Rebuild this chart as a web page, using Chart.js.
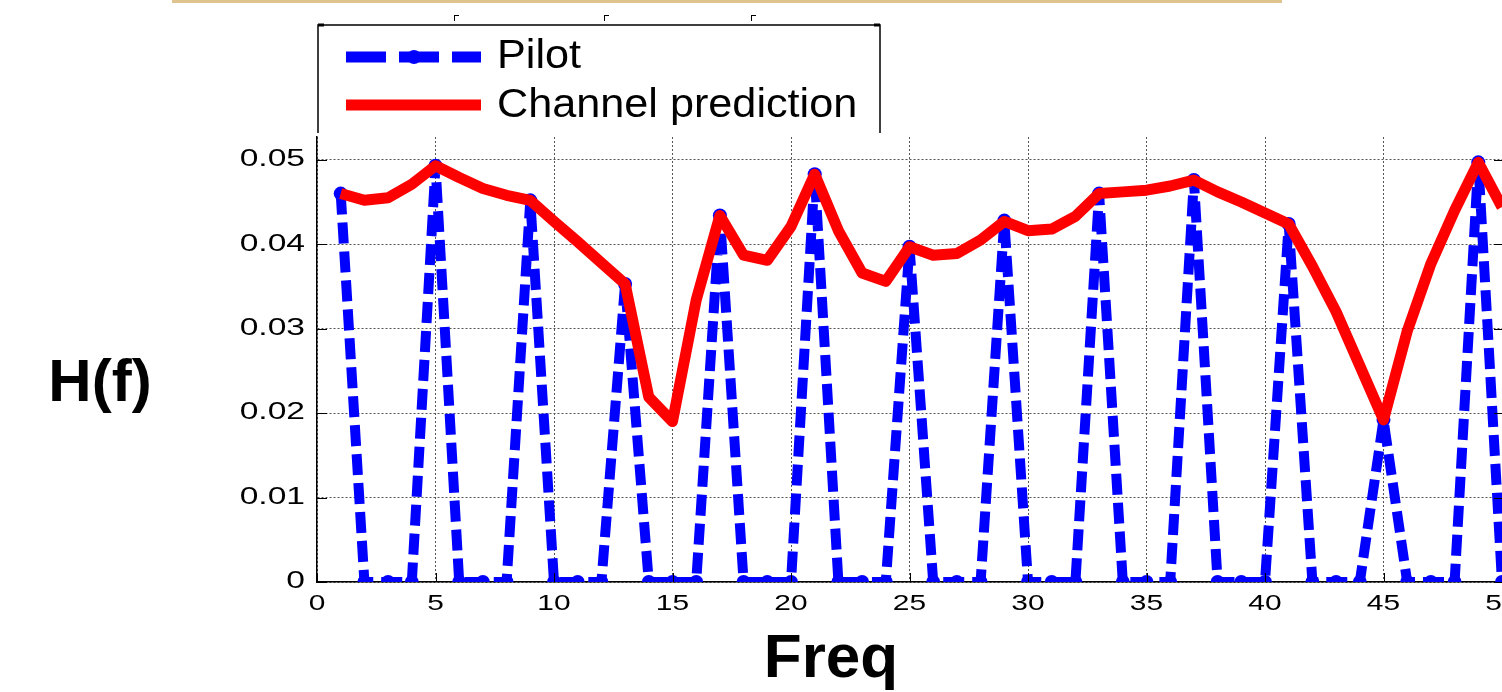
<!DOCTYPE html>
<html lang="en">
<head>
  <meta charset="UTF-8">
  <title>H(f) - Pilot vs Channel prediction</title>
  <script src="https://cdn.jsdelivr.net/npm/chart.js"></script>
  <style>
    html, body { margin: 0; padding: 0; background: #fff; overflow: hidden; }
    #wrap { width: 1530px; height: 692px; }
  </style>
</head>
<body>
  <div id="wrap"><canvas id="hfChart" width="1530" height="692"></canvas></div>

  <script>
    // Data
    const freq = [1, 2, 3, 4, 5, 6, 7, 8, 9, 10, 11, 12, 13, 14, 15, 16, 17, 18, 19, 20,
                  21, 22, 23, 24, 25, 26, 27, 28, 29, 30, 31, 32, 33, 34, 35, 36, 37, 38, 39, 40,
                  41, 42, 43, 44, 45, 46, 47, 48, 49, 50];
    const pilot = [0.0460, 0, 0, 0, 0.0493, 0, 0, 0, 0.0452, 0, 0, 0, 0.0353, 0, 0, 0,
                   0.0434, 0, 0, 0, 0.0483, 0, 0, 0, 0.0397, 0, 0, 0, 0.0428, 0, 0, 0,
                   0.0460, 0, 0, 0, 0.0476, 0, 0, 0, 0.0424, 0, 0, 0, 0.0192, 0, 0, 0,
                   0.0497, 0];
    const prediction = [0.0460, 0.0452, 0.0455, 0.0471, 0.0493, 0.0479, 0.0466, 0.0458, 0.0452, 0.0427,
                        0.0403, 0.0378, 0.0353, 0.0219, 0.0190, 0.0334, 0.0434, 0.0387, 0.0381, 0.0421,
                        0.0483, 0.0416, 0.0366, 0.0356, 0.0397, 0.0387, 0.0389, 0.0405, 0.0427, 0.0416,
                        0.0418, 0.0433, 0.0460, 0.0462, 0.0464, 0.0469, 0.0476, 0.0462, 0.0450, 0.0437,
                        0.0424, 0.0374, 0.0320, 0.0256, 0.0192, 0.0297, 0.0377, 0.0440, 0.0497, 0.0444];
    const xTickValues = [0, 5, 10, 15, 20, 25, 30, 35, 40, 45, 50];
    const yTickValues = [0, 0.01, 0.02, 0.03, 0.04, 0.05];
    const yTickLabels = ['0', '0.01', '0.02', '0.03', '0.04', '0.05'];
    const seriesNames = ['Pilot', 'Channel prediction'];

    const FONT = '"Liberation Sans", Arial, sans-serif';

    // draw text squeezed/stretched horizontally (matlab export looks wide)
    function wideText(ctx, txt, x, y, font, sx, align, base) {
      ctx.save();
      ctx.font = font;
      ctx.fillStyle = '#000';
      ctx.textAlign = align;
      ctx.textBaseline = base || 'middle';
      ctx.translate(x, y);
      ctx.scale(sx, 1);
      ctx.fillText(txt, 0, 0);
      ctx.restore();
    }

    function line(ctx, x1, y1, x2, y2) {
      ctx.beginPath();
      ctx.moveTo(x1, y1);
      ctx.lineTo(x2, y2);
      ctx.stroke();
    }

    const decor = {
      id: 'decor',
      beforeDraw(chart) {
        const ctx = chart.ctx;
        ctx.save();
        ctx.fillStyle = '#fff';
        ctx.fillRect(0, 0, chart.width, chart.height);
        // slide rule at the very top
        ctx.fillStyle = '#dfc48f';
        ctx.fillRect(172, 0, 1110, 3);
        ctx.restore();
      },
      afterDraw(chart) {
        const ctx = chart.ctx;
        const a = chart.chartArea;
        const xs = chart.scales.x, ys = chart.scales.y;

        // inward tick marks
        ctx.save();
        ctx.strokeStyle = '#000';
        ctx.lineWidth = 1;
        xs.ticks.forEach(t => {
          const px = Math.round(xs.getPixelForValue(t.value)) + 0.5;
          line(ctx, px, a.bottom, px, a.bottom - 9);
        });
        ys.ticks.forEach(t => {
          const py = Math.round(ys.getPixelForValue(t.value)) + 0.5;
          line(ctx, a.left, py, a.left + 10, py);
          line(ctx, a.right, py, a.right - 8, py);
        });
        ctx.restore();

        // tick labels
        xs.ticks.forEach(t => {
          wideText(ctx, String(t.value), xs.getPixelForValue(t.value), 604, '22px ' + FONT, 1.36, 'center');
        });
        ys.ticks.forEach((t, i) => {
          wideText(ctx, yTickLabels[i], a.left - 12, ys.getPixelForValue(t.value), '23px ' + FONT, 1.46, 'right');
        });

        // axis titles
        wideText(ctx, 'H(f)', 100, 384, 'bold 60px ' + FONT, 1, 'center');
        wideText(ctx, 'Freq', 831, 677, 'bold 62px ' + FONT, 1, 'center', 'alphabetic');

        // legend box
        const lx = 318, rx = 880, ty = 25, by = 133;
        ctx.save();
        ctx.fillStyle = '#fff';
        ctx.fillRect(lx, ty, rx - lx, by - ty);
        ctx.strokeStyle = '#000';
        ctx.lineWidth = 1.5;
        ctx.beginPath();
        ctx.moveTo(lx, by);
        ctx.lineTo(lx, ty);
        ctx.lineTo(rx, ty);
        ctx.lineTo(rx, by);
        ctx.stroke();
        ctx.lineWidth = 3;
        line(ctx, lx, ty, lx + 6, ty);
        line(ctx, rx - 6, ty, rx, ty);
        ctx.lineWidth = 1;
        // stray axis marks above the legend
        [454, 604, 751].forEach(px => {
          line(ctx, px + 0.5, 15, px + 0.5, 21);
          line(ctx, px, 15.5, px + 5, 15.5);
        });
        ctx.restore();

        const pilotDs = chart.data.datasets[0];
        const predDs = chart.data.datasets[1];
        ctx.save();
        ctx.lineWidth = 11;
        ctx.strokeStyle = pilotDs.borderColor;
        ctx.setLineDash([40, 13]);
        line(ctx, 346, 57, 481, 57);
        ctx.setLineDash([]);
        ctx.fillStyle = pilotDs.borderColor;
        ctx.beginPath();
        ctx.arc(414, 57, 7, 0, Math.PI * 2);
        ctx.fill();
        ctx.strokeStyle = predDs.borderColor;
        line(ctx, 346, 105, 481, 105);
        ctx.restore();
        wideText(ctx, seriesNames[0], 497, 57, '40px ' + FONT, 1.08, 'left');
        wideText(ctx, seriesNames[1], 497, 106, '40px ' + FONT, 1.08, 'left');
      }
    };

    new Chart(document.getElementById('hfChart'), {
      type: 'line',
      data: {
        datasets: [
          {
            label: seriesNames[0],
            data: freq.map((f, i) => ({ x: f, y: pilot[i] })),
            borderColor: '#0000ff',
            backgroundColor: '#0000ff',
            borderWidth: 10,
            borderDash: [21, 8],
            pointRadius: 7,
            pointStyle: 'circle',
            pointBorderWidth: 0,
            tension: 0,
            order: 1
          },
          {
            label: seriesNames[1],
            data: freq.map((f, i) => ({ x: f, y: prediction[i] })),
            borderColor: '#ff0000',
            backgroundColor: '#ff0000',
            borderWidth: 11,
            pointRadius: 0,
            tension: 0,
            borderJoinStyle: 'round',
            order: 0
          }
        ]
      },
      options: {
        responsive: false,
        animation: false,
        devicePixelRatio: 1,
        layout: { padding: { left: 317, top: 137, right: 28, bottom: 110 } },
        plugins: {
          legend: { display: false },
          tooltip: { enabled: false }
        },
        scales: {
          x: {
            type: 'linear',
            min: 0,
            max: 50,
            afterBuildTicks: s => { s.ticks = xTickValues.map(v => ({ value: v })); },
            ticks: { display: false },
            grid: { color: '#555', lineWidth: 1, drawTicks: false },
            border: { display: true, color: '#000', width: 1.5, dash: [2, 2] }
          },
          y: {
            type: 'linear',
            min: 0,
            max: 0.0527,
            afterBuildTicks: s => { s.ticks = yTickValues.map(v => ({ value: v })); },
            ticks: { display: false },
            grid: { color: '#555', lineWidth: 1, drawTicks: false },
            border: { display: true, color: '#000', width: 1.5, dash: [2, 2] }
          }
        }
      },
      plugins: [decor]
    });
  </script>
</body>
</html>
